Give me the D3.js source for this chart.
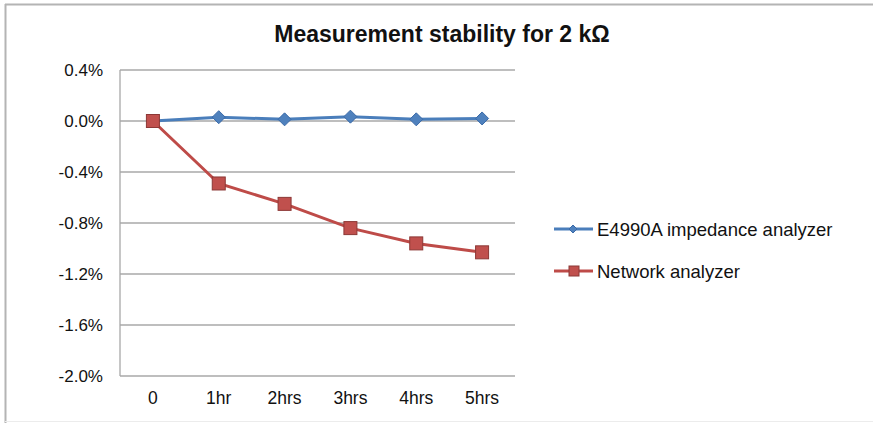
<!DOCTYPE html>
<html>
<head>
<meta charset="utf-8">
<script src="https://cdn.jsdelivr.net/npm/d3@7"></script>
<style>
  body { margin: 0; background: #fff; }
  svg { display: block; font-family: "Liberation Sans", Arial, sans-serif; }
</style>
</head>
<body>
<svg id="chart" width="873" height="423"></svg>
<script>
"use strict";

var categories = ["0", "1hr", "2hrs", "3hrs", "4hrs", "5hrs"];
var e4990Values = [0.0, 0.03, 0.013, 0.034, 0.013, 0.02];
var networkValues = [0.0, -0.49, -0.65, -0.84, -0.96, -1.03];
var yTicks = [0.4, 0.0, -0.4, -0.8, -1.2, -1.6, -2.0];

var seriesList = [
  { name: "E4990A impedance analyzer", values: e4990Values, line: "#4a7ebb", fill: "#4f81bd", stroke: "#3a6aa8", marker: "diamond" },
  { name: "Network analyzer", values: networkValues, line: "#be4b48", fill: "#c0504d", stroke: "#8c3836", marker: "square" }
];

var svg = d3.select("#chart");

// outer frame (top and left edges, faint bottom)
svg.append("line").attr("x1", 5).attr("x2", 873).attr("y1", 4.5).attr("y2", 4.5)
  .style("stroke", "#b4b4b4").style("stroke-width", 2);
svg.append("line").attr("x1", 5.5).attr("x2", 5.5).attr("y1", 4).attr("y2", 423)
  .style("stroke", "#b4b4b4").style("stroke-width", 2);
svg.append("line").attr("x1", 5).attr("x2", 873).attr("y1", 421.5).attr("y2", 421.5)
  .style("stroke", "#ececec").style("stroke-width", 1);

var plot = { left: 120, right: 515, top: 70, bottom: 376 };

var x = d3.scaleBand().domain(categories).range([plot.left, plot.right]);
var y = d3.scaleLinear().domain([-2.0, 0.4]).range([plot.bottom, plot.top]);

// title
svg.append("text")
  .attr("x", 442).attr("y", 42)
  .attr("text-anchor", "middle")
  .style("font-size", "23px").style("font-weight", 700).style("fill", "#111")
  .text("Measurement stability for 2 k\u03A9");

// gridlines
svg.append("g").selectAll("line.grid").data(yTicks).enter().append("line")
  .attr("class", "grid")
  .attr("x1", plot.left).attr("x2", plot.right)
  .attr("y1", function (d) { return y(d); }).attr("y2", function (d) { return y(d); })
  .style("stroke", "#a8a8a8").style("stroke-width", 1.3);

// left axis line
svg.append("line").attr("x1", plot.left).attr("x2", plot.left)
  .attr("y1", plot.top).attr("y2", plot.bottom)
  .style("stroke", "#a8a8a8").style("stroke-width", 1.3);

// y axis labels
var yAxis = d3.axisLeft(y).tickValues(yTicks).tickSize(0).tickPadding(17)
  .tickFormat(function (d) { return d.toFixed(1) + "%"; });
var yG = svg.append("g").attr("transform", "translate(" + plot.left + ",0)").call(yAxis);
yG.select(".domain").remove();
yG.selectAll("text").style("font-size", "17px").style("fill", "#111")
  .style("font-family", "'Liberation Sans', Arial, sans-serif");

// x axis labels
var xAxis = d3.axisBottom(x).tickSize(0).tickPadding(16);
var xG = svg.append("g").attr("transform", "translate(0," + plot.bottom + ")").call(xAxis);
xG.select(".domain").remove();
xG.selectAll("text").style("font-size", "17.5px").style("fill", "#111")
  .style("font-family", "'Liberation Sans', Arial, sans-serif");

var lineGen = d3.line()
  .x(function (d, i) { return x(categories[i]) + x.bandwidth() / 2; })
  .y(function (d) { return y(d); });

function drawMarker(g, type, cx, cy, s) {
  if (type === "diamond") {
    g.append("path")
      .attr("d", "M" + cx + "," + (cy - 6.5) + "L" + (cx + 6.5) + "," + cy +
        "L" + cx + "," + (cy + 6.5) + "L" + (cx - 6.5) + "," + cy + "Z")
      .style("fill", s.fill).style("stroke", s.stroke).style("stroke-width", 1);
  } else {
    g.append("rect")
      .attr("x", cx - 6.5).attr("y", cy - 6.5).attr("width", 13).attr("height", 13)
      .style("fill", s.fill).style("stroke", s.stroke).style("stroke-width", 1);
  }
}

seriesList.forEach(function (s) {
  var g = svg.append("g");
  g.append("path")
    .datum(s.values)
    .attr("d", lineGen)
    .style("fill", "none")
    .style("stroke", s.line)
    .style("stroke-width", 3);
  s.values.forEach(function (v, i) {
    drawMarker(g, s.marker, x(categories[i]) + x.bandwidth() / 2, y(v), s);
  });
});

// legend
var legendY = [229, 271];
seriesList.forEach(function (s, i) {
  var ly = legendY[i];
  var g = svg.append("g");
  g.append("line").attr("x1", 554).attr("x2", 593).attr("y1", ly).attr("y2", ly)
    .style("stroke", s.line).style("stroke-width", 3);
  if (s.marker === "diamond") {
    g.append("path")
      .attr("d", "M573," + (ly - 4) + "L577," + ly + "L573," + (ly + 4) + "L569," + ly + "Z")
      .style("fill", s.fill).style("stroke", s.stroke);
  } else {
    g.append("rect").attr("x", 569).attr("y", ly - 5).attr("width", 10).attr("height", 10)
      .style("fill", s.fill).style("stroke", s.stroke);
  }
  g.append("text").attr("x", 597).attr("y", ly + 6.5)
    .style("font-size", "18.5px").style("fill", "#111")
    .text(s.name);
});
</script>
</body>
</html>
